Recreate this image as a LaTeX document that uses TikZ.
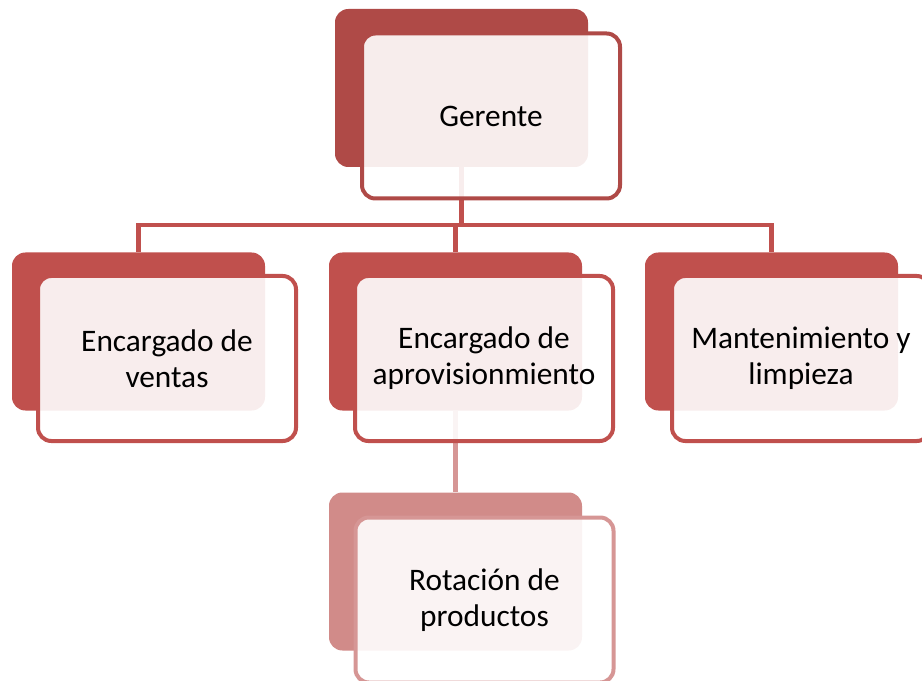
\documentclass[tikz,border=0pt]{standalone}
\usepackage{fontspec}
\setmainfont{Carlito}
\usepackage{tikz}
\usepackage{xcolor}

\definecolor{topred}{HTML}{AF4A47}
\definecolor{midred}{HTML}{C0504D}
\definecolor{lowred}{HTML}{D18B89}
\definecolor{lowline}{HTML}{D69695}

\tikzset{
  backbox/.style={rectangle, rounded corners=10pt, minimum width=189.75pt,
                  minimum height=118.5pt, inner sep=0pt, fill=#1},
  frontbox/.style={rectangle, rounded corners=10pt, minimum width=193.5pt,
                   minimum height=123.75pt, draw=#1, line width=3pt,
                   fill=white, fill opacity=0.9, text opacity=1,
                   align=center, font=\fontsize{23.5}{27}\selectfont},
  link/.style={draw=#1, line width=3.4pt}
}

\begin{document}
\begin{tikzpicture}[x=0.75pt, y=-0.75pt]
        \useasboundingbox (0,0) rectangle (922,681);

        % back rectangles
        \node[backbox=topred] (gb) at (461.5,88) {};
        \node[backbox=midred] (vb) at (138.5,331.5) {};
        \node[backbox=midred] (ab) at (455.5,331.5) {};
        \node[backbox=midred] (mb) at (771.5,331.5) {};
        \node[backbox=lowred] (rb) at (455.5,571.5) {};

        % connectors
        \coordinate (bus) at (461.5,225);
        \draw[link=midred] (gb.south) -- (bus);
        \draw[link=midred] (bus) -| (vb.north);
        \draw[link=midred] (bus) -| (ab.north);
        \draw[link=midred] (bus) -| (mb.north);
        \draw[link=lowline] (ab.south) -- (rb.north);

        % front boxes with text
        \node[frontbox=topred] (gerente) at (491,116) {Gerente};
        \node[frontbox=midred] (ventas) at (167,358.5) {Encargado de\\ventas};
        \node[frontbox=midred] (aprov) at (484,358.5) {Encargado de\\aprovisionmiento};
        \node[frontbox=midred] (mant) at (801,358.5) {Mantenimiento y\\limpieza};
        \node[frontbox=lowline] (rot) at (484.5,600) {Rotación de\\productos};
      \end{tikzpicture}
\end{document}
